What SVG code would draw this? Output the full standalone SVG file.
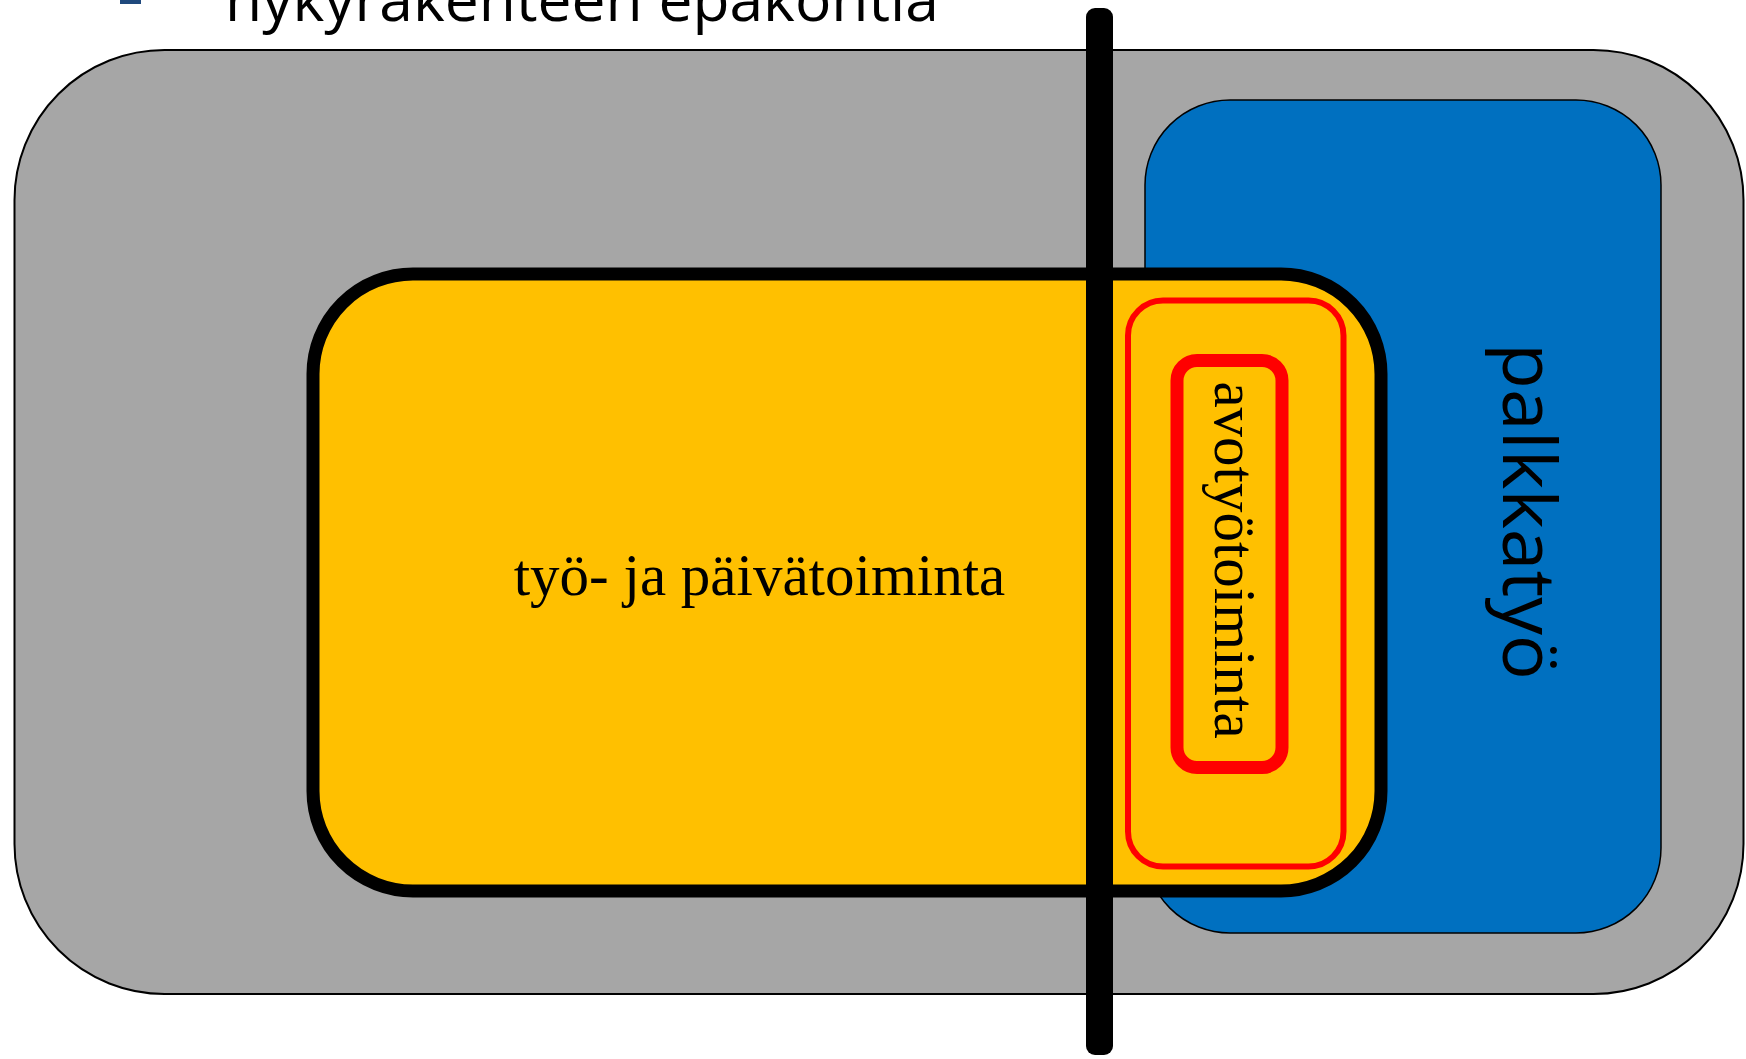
<svg xmlns="http://www.w3.org/2000/svg" width="1746" height="1059" viewBox="0 0 1746 1059">
<style>
.serif{font-family:"Liberation Serif","Times New Roman",serif;font-size:59px;fill:#000}
.sans{font-family:"Open Sans","Noto Sans",sans-serif;fill:#000}
</style>
<rect x="0" y="0" width="1746" height="1059" fill="#fff"/>
<g id="title">
<rect x="120" y="-5" width="21" height="9" fill="#1F497D"/>
<text class="sans" x="225" y="20.7" font-size="60" textLength="714" lengthAdjust="spacingAndGlyphs">nykyrakenteen epäkohtia</text>
</g>
<g id="gray">
<rect x="14.5" y="50" width="1729" height="944" rx="150" fill="#A6A6A6" stroke="#000" stroke-width="2"/>
</g>
<g id="palkkatyo">
<rect x="1145" y="100" width="516" height="833" rx="85" fill="#0070C0" stroke="#000" stroke-width="1.5"/>
<text class="sans" font-size="73" text-anchor="middle" transform="translate(1503,511.5) rotate(90)" textLength="337" lengthAdjust="spacingAndGlyphs">palkkatyö</text>
</g>
<g id="tyo">
<rect x="313" y="274" width="1068" height="617" rx="100" fill="#FFC000" stroke="#000" stroke-width="13"/>
<text class="serif" x="759.5" y="595" text-anchor="middle">työ- ja päivätoiminta</text>
</g>
<g id="connectors">
<rect x="1086" y="8" width="27" height="1047" rx="9" fill="#000"/>
</g>
<g id="avotyo">
<rect x="1128" y="300.5" width="215.5" height="566" rx="35" fill="none" stroke="#FF0000" stroke-width="6"/>
<rect x="1177" y="360.5" width="105" height="407" rx="20" fill="none" stroke="#FF0000" stroke-width="13"/>
<text class="serif" text-anchor="middle" transform="translate(1215,560) rotate(90)">avotyötoiminta</text>
</g>
</svg>
